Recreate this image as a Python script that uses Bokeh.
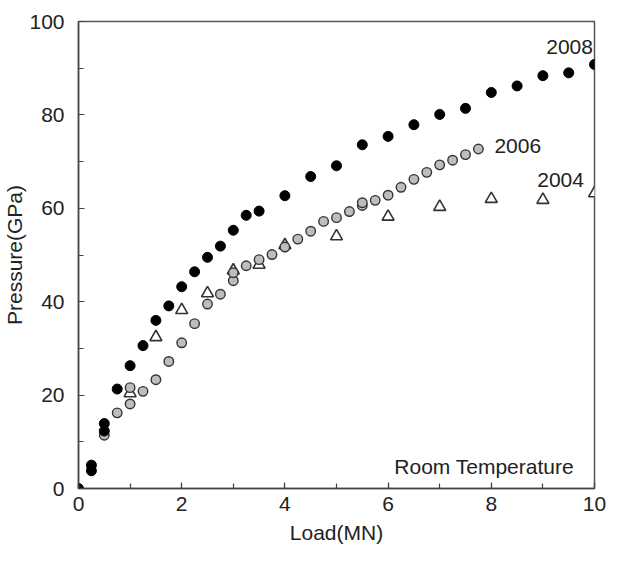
from bokeh.plotting import figure
from bokeh.models import SingleIntervalTicker, Label, Range1d
from bokeh.embed import file_html
from bokeh.resources import INLINE

# Data
x2008 = [0, 0.25, 0.25, 0.5, 0.5, 0.75, 1.0, 1.25, 1.5, 1.75, 2.0, 2.25, 2.5, 2.75,
         3.0, 3.25, 3.5, 4.0, 4.5, 5.0, 5.5, 6.0, 6.5, 7.0, 7.5, 8.0, 8.5, 9.0, 9.5, 10.0]
y2008 = [0, 5.0, 3.8, 13.9, 12.3, 21.3, 26.3, 30.6, 36.0, 39.1, 43.2, 46.4, 49.5, 51.9,
         55.3, 58.5, 59.4, 62.7, 66.8, 69.1, 73.6, 75.4, 77.9, 80.1, 81.4, 84.8, 86.2, 88.4, 89.0, 90.8]

x2006 = [0.5, 0.75, 1.0, 1.0, 1.25, 1.5, 1.75, 2.0, 2.25, 2.5, 2.75, 3.0, 3.0, 3.25, 3.5,
         3.75, 4.0, 4.25, 4.5, 4.75, 5.0, 5.25, 5.5, 5.5, 5.75, 6.0, 6.25, 6.5, 6.75, 7.0,
         7.25, 7.5, 7.75]
y2006 = [11.4, 16.2, 18.1, 21.6, 20.8, 23.3, 27.2, 31.2, 35.3, 39.5, 41.6, 44.5, 46.2, 47.7, 49.0,
         50.1, 51.7, 53.4, 55.1, 57.2, 58.0, 59.3, 60.6, 61.2, 61.7, 62.8, 64.5, 66.2, 67.7, 69.3,
         70.3, 71.5, 72.7]

x2004 = [1.0, 1.5, 2.0, 2.5, 3.0, 3.5, 4.0, 5.0, 6.0, 7.0, 8.0, 9.0, 10.0]
y2004 = [20.4, 32.4, 38.2, 41.8, 46.7, 47.9, 52.1, 54.0, 58.2, 60.3, 62.0, 61.8, 63.2]

series_labels = ["2008", "2006", "2004"]
note = "Room Temperature"
x_title = "Load(MN)"
y_title = "Pressure(GPa)"

FONT = "Liberation Sans"
FS = "21px"
TXT = "#222222"

p = figure(width=609, height=546, output_backend="svg", toolbar_location=None,
           x_range=Range1d(0, 10), y_range=Range1d(0, 100),
           min_border_left=76, min_border_right=15, min_border_top=21, min_border_bottom=57)
p.background_fill_color = "white"
p.border_fill_color = "white"
p.outline_line_color = "#555555"
p.outline_line_width = 1.5
p.grid.visible = False

for ax in (p.xaxis[0], p.yaxis[0]):
    ax.axis_line_color = "#444444"
    ax.axis_line_width = 1.5
    ax.major_tick_line_color = "#444444"
    ax.minor_tick_line_color = "#444444"
    ax.major_tick_line_width = 1.2
    ax.minor_tick_line_width = 1.2
    ax.major_tick_in = 6
    ax.major_tick_out = 0
    ax.minor_tick_in = 5
    ax.minor_tick_out = 0
    ax.major_label_text_font = FONT
    ax.major_label_text_font_size = FS
    ax.major_label_text_color = TXT
    ax.axis_label_text_font = FONT
    ax.axis_label_text_font_size = FS
    ax.axis_label_text_font_style = "normal"
    ax.axis_label_text_color = TXT
    ax.axis_label_standoff = 0

p.xaxis[0].ticker = SingleIntervalTicker(interval=2, num_minor_ticks=2)
p.yaxis[0].ticker = SingleIntervalTicker(interval=20, num_minor_ticks=2)
p.xaxis[0].axis_label = x_title
p.yaxis[0].axis_label = y_title
p.xaxis[0].major_label_standoff = 8
p.xaxis[0].axis_label_standoff = 7
p.yaxis[0].major_label_standoff = 14

p.scatter(x2004, y2004, marker="triangle", size=12, fill_color="white",
          line_color="#333333", line_width=1.6)
p.scatter(x2006, y2006, marker="circle", size=9.5, fill_color="#bdbdbd",
          line_color="#333333", line_width=1.4)
p.scatter(x2008, y2008, marker="circle", size=10, fill_color="black",
          line_color="black", line_width=1)

p.add_layout(Label(x=9.97, y=94.6, text=series_labels[0], text_font=FONT, text_font_size=FS,
                   text_color=TXT, text_baseline="middle", text_align="right"))
p.add_layout(Label(x=8.06, y=73.4, text=series_labels[1], text_font=FONT, text_font_size=FS,
                   text_color=TXT, text_baseline="middle", text_align="left"))
p.add_layout(Label(x=8.89, y=66.1, text=series_labels[2], text_font=FONT, text_font_size=FS,
                   text_color=TXT, text_baseline="middle", text_align="left"))
p.add_layout(Label(x=6.12, y=4.7, text=note, text_font=FONT, text_font_size=FS,
                   text_color=TXT, text_baseline="middle", text_align="left"))

open("out.html", "w").write(file_html(p, INLINE))
